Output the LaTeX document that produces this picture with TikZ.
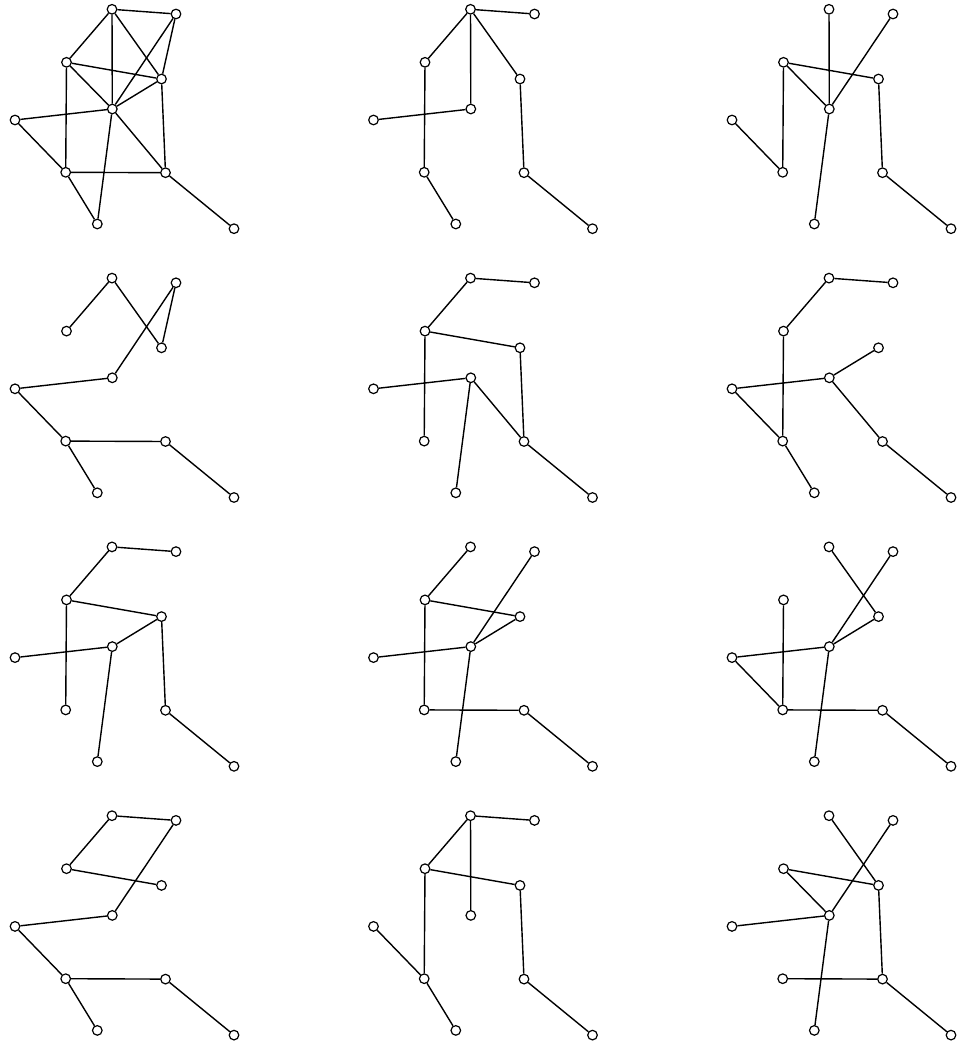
\documentclass[tikz,border=0pt]{standalone}
\usepackage{tikz}

\begin{document}
\begin{tikzpicture}[
  x=0.75pt, y=-0.75pt,
  vtx/.style={draw, circle, fill=white, line width=0.9pt, inner sep=0pt, minimum size=7.2pt},
  edge/.style={line width=1.05pt}
]
\useasboundingbox (0,0) rectangle (956,1045);

\foreach \p/\cx/\cy/\edges in {%
  1/0/0/{a/b,a/c,a/f,a/d,b/f,b/d,c/d,c/f,c/g,d/f,d/h,e/f,e/g,f/h,f/i,g/h,g/i,h/j},%
  2/1/0/{a/b,a/c,a/f,a/d,c/g,e/f,d/h,g/i,h/j},%
  3/2/0/{a/f,b/f,c/d,c/f,c/g,e/g,d/h,f/i,h/j},%
  4/0/1/{a/c,a/d,b/d,b/f,e/f,e/g,g/h,g/i,h/j},%
  5/1/1/{a/b,a/c,c/d,c/g,e/f,f/h,d/h,f/i,h/j},%
  6/2/1/{a/b,a/c,c/g,e/f,e/g,d/f,f/h,g/i,h/j},%
  7/0/2/{a/b,a/c,c/d,c/g,e/f,d/f,d/h,f/i,h/j},%
  8/1/2/{a/c,c/d,c/g,b/f,d/f,e/f,f/i,g/h,h/j},%
  9/2/2/{a/d,b/f,d/f,c/g,e/f,e/g,f/i,g/h,h/j},%
  10/0/3/{a/b,a/c,c/d,b/f,e/f,e/g,g/h,g/i,h/j},%
  11/1/3/{a/b,a/c,a/f,c/d,c/g,e/g,d/h,g/i,h/j},%
  12/2/3/{a/d,b/f,c/d,c/f,e/f,f/i,d/h,g/h,h/j}%
}{
  \begin{scope}[shift={(\cx*358.5,\cy*268.8)}, name prefix=g\p-]
    \node[vtx] (a) at (112,9.3) {};
    \node[vtx] (b) at (176,14) {};
    \node[vtx] (c) at (66.5,62.3) {};
    \node[vtx] (d) at (161.5,79) {};
    \node[vtx] (e) at (15,120) {};
    \node[vtx] (f) at (112.3,109) {};
    \node[vtx] (g) at (65.7,172.3) {};
    \node[vtx] (h) at (165.5,172.7) {};
    \node[vtx] (i) at (97.3,224) {};
    \node[vtx] (j) at (234,228.7) {};
    \foreach \u/\v in \edges
      \draw[edge] (\u) -- (\v);
  \end{scope}
}

\end{tikzpicture}
\end{document}
